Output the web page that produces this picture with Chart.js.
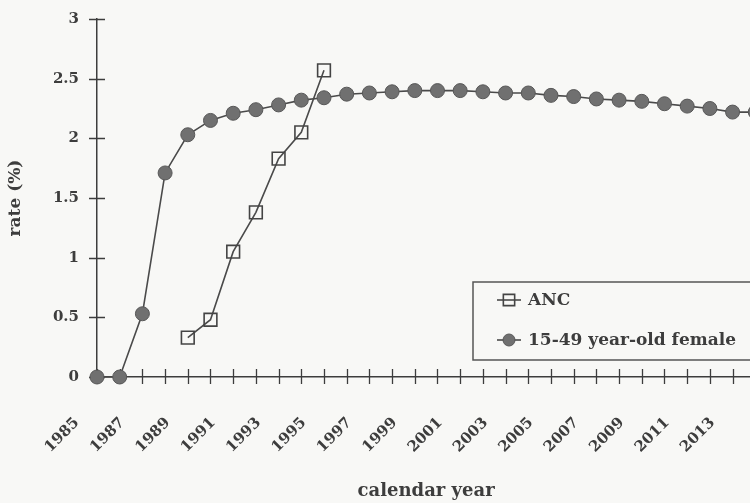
<!DOCTYPE html>
<html>
<head>
<meta charset="utf-8">
<script src="https://cdn.jsdelivr.net/npm/chart.js@4/dist/chart.umd.min.js"></script>
<style>
  html, body { margin: 0; padding: 0; background: #f8f8f6; overflow: hidden; }
  #wrap { width: 797px; height: 503px; position: relative; }
</style>
</head>
<body>
<div id="wrap"><canvas id="c" width="797" height="503"></canvas></div>
<script>
// calendar years on the x axis
const years = [1985, 1986, 1987, 1988, 1989, 1990, 1991, 1992, 1993, 1994,
               1995, 1996, 1997, 1998, 1999, 2000, 2001, 2002, 2003, 2004,
               2005, 2006, 2007, 2008, 2009, 2010, 2011, 2012, 2013, 2014];

// HIV prevalence among antenatal-clinic attendees (%), 1989-1995
const ancRate = [null, null, null, null, 0.33, 0.48, 1.05, 1.38, 1.83, 2.05,
                 2.57, null, null, null, null, null, null, null, null, null,
                 null, null, null, null, null, null, null, null, null, null];

// modelled prevalence among 15-49 year-old females (%)
const femaleRate = [0, 0, 0.53, 1.71, 2.03, 2.15, 2.21, 2.24, 2.28, 2.32,
                    2.34, 2.37, 2.38, 2.39, 2.40, 2.40, 2.40, 2.39, 2.38, 2.38,
                    2.36, 2.35, 2.33, 2.32, 2.31, 2.29, 2.27, 2.25, 2.22, 2.22];

const yTicks = [0, 0.5, 1, 1.5, 2, 2.5, 3];

const seriesNames = ['ANC', '15-49 year-old female'];

const ink = '#3d3d3d';
const serif = '"DejaVu Serif", "Liberation Serif", serif';

// tick marks that cross both axis lines
const crossTicks = {
  id: 'crossTicks',
  beforeDatasetsDraw(chart) {
    const { ctx } = chart;
    const xs = chart.scales.x, ys = chart.scales.y;
    ctx.save();
    ctx.strokeStyle = ink;
    ctx.lineWidth = 1.3;
    ctx.beginPath();
    xs.ticks.forEach((t, i) => {
      const px = Math.round(xs.getPixelForTick(i)) + 0.5;
      ctx.moveTo(px, xs.top - 8);
      ctx.lineTo(px, xs.top + 7);
    });
    ys.ticks.forEach((t, i) => {
      const py = Math.round(ys.getPixelForTick(i)) + 0.5;
      ctx.moveTo(ys.right - 8, py);
      ctx.lineTo(ys.right + 8, py);
    });
    ctx.stroke();
    ctx.restore();
  }
};

// boxed legend sitting in the lower right of the plot
const boxLegend = {
  id: 'boxLegend',
  afterDraw(chart) {
    const { ctx, chartArea } = chart;
    const left = chartArea.left + 376;
    const top = chartArea.top + 263;
    const w = 320, h = 78;
    ctx.save();
    ctx.strokeStyle = '#555';
    ctx.lineWidth = 1.5;
    ctx.strokeRect(left, top, w, h);
    ctx.font = 'bold 17px ' + serif;
    ctx.fillStyle = ink;
    ctx.textBaseline = 'middle';
    chart.data.datasets.forEach((ds, i) => {
      const cy = top + 18 + i * 40;
      const x0 = left + 24, x1 = left + 48;
      ctx.strokeStyle = ds.borderColor;
      ctx.lineWidth = ds.borderWidth;
      ctx.beginPath();
      ctx.moveTo(x0, cy);
      ctx.lineTo(x1, cy);
      ctx.stroke();
      ctx.fillStyle = ds.pointBackgroundColor;
      ctx.strokeStyle = ds.pointBorderColor;
      ctx.lineWidth = ds.pointBorderWidth;
      Chart.helpers.drawPoint(ctx, {
        pointStyle: ds.pointStyle,
        radius: ds.legendRadius,
        rotation: 0,
        borderWidth: ds.pointBorderWidth
      }, (x0 + x1) / 2, cy);
      ctx.fillStyle = ink;
      ctx.fillText(ds.label, x1 + 7, cy + 1);
    });
    ctx.restore();
  }
};

new Chart(document.getElementById('c'), {
  type: 'line',
  data: {
    labels: years.map(String),
    datasets: [
      {
        label: seriesNames[0],
        data: ancRate,
        borderColor: '#4a4a4a',
        borderWidth: 1.6,
        pointStyle: 'rect',
        pointRadius: 9,
        legendRadius: 8,
        pointBackgroundColor: 'rgba(255,255,255,0)',
        pointBorderColor: '#444',
        pointBorderWidth: 1.6,
        tension: 0,
        clip: false
      },
      {
        label: seriesNames[1],
        data: femaleRate,
        borderColor: '#4a4a4a',
        borderWidth: 1.6,
        pointStyle: 'circle',
        pointRadius: 7,
        legendRadius: 6,
        pointBackgroundColor: '#707070',
        pointBorderColor: '#575757',
        pointBorderWidth: 1,
        tension: 0,
        clip: false
      }
    ]
  },
  options: {
    responsive: false,
    animation: false,
    events: [],
    layout: { padding: { left: 0, top: 7, right: 17, bottom: 0 } },
    plugins: { legend: { display: false }, tooltip: { enabled: false } },
    scales: {
      x: {
        type: 'category',
        offset: false,
        afterFit(s) { s.height = 126; },
        grid: { display: false },
        border: { display: true, color: ink, width: 1.5 },
        ticks: {
          autoSkip: false,
          minRotation: 45,
          maxRotation: 45,
          padding: 29,
          labelOffset: -20,
          color: ink,
          font: { family: serif, size: 15, weight: 'bold' },
          callback(v, i) { return i % 2 === 0 ? years[i] : ''; }
        },
        title: {
          display: true,
          text: 'calendar year',
          color: ink,
          font: { family: serif, size: 18, weight: 'bold' },
          padding: { top: 0, bottom: 1 }
        }
      },
      y: {
        min: 0,
        max: 3,
        afterFit(s) { s.width = 97; },
        afterBuildTicks(s) { s.ticks = yTicks.map(v => ({ value: v })); },
        grid: { display: false },
        border: { display: true, color: ink, width: 1.5 },
        ticks: {
          padding: 10,
          color: ink,
          font: { family: serif, size: 15, weight: 'bold' },
          callback(v) { return String(v); }
        },
        title: {
          display: true,
          text: 'rate (%)',
          color: ink,
          font: { family: serif, size: 17, weight: 'bold' },
          padding: { top: 5, bottom: 0 }
        }
      }
    }
  },
  plugins: [crossTicks, boxLegend]
});
</script>
</body>
</html>
